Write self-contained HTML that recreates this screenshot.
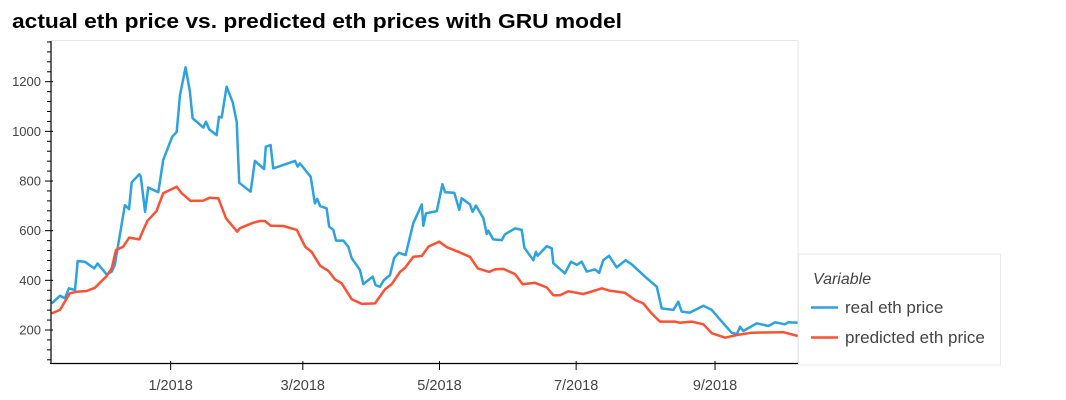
<!DOCTYPE html>
<html><head><meta charset="utf-8"><style>
body{margin:0;background:#fff;}
svg{display:block;font-family:"Liberation Sans",Helvetica,Arial,sans-serif;}
</style></head><body>
<svg id="chart" width="1066" height="400">
<text x="12" y="28" font-size="20" font-weight="bold" fill="#000" textLength="610" lengthAdjust="spacingAndGlyphs">actual eth price vs. predicted eth prices with GRU model</text>
<rect x="51" y="40.5" width="747" height="323" fill="none" stroke="#e6e6e6"/>
<g id="series"></g>
<g id="axes"></g>
<g>
<rect x="798.5" y="254" width="202" height="111" fill="#fff" stroke="#e8e8e8"/>
<text x="813" y="284" font-size="16" font-style="italic" fill="#444">Variable</text>
<line x1="811" y1="307.5" x2="838" y2="307.5" stroke="#2ca2e0" stroke-width="2.5"/>
<text x="845" y="313" font-size="17" fill="#444">real eth price</text>
<line x1="811" y1="337.5" x2="838" y2="337.5" stroke="#fe5033" stroke-width="2.5"/>
<text x="845" y="343" font-size="17" fill="#444">predicted eth price</text>
</g>
</svg>
<script>
// days since 2018-01-01
const realDays=[-53.1,-49.4,-47.2,-45.4,-42.7,-41.5,-38.3,-34.1,-32.6,-28.6,-26.3,-24.9,-20.4,-18.6,-17.4,-14,-13.3,-11.4,-10,-5.5,-3.3,0.7,2.7,4.2,6.7,8.6,9.8,14.6,15.8,17.2,20.5,21.6,22.8,25,27.7,29.5,30.6,35.7,37.6,41.7,42.5,44.6,45.8,55.5,56.7,57.7,62.5,64.4,65.4,66.7,69.6,70.8,72.6,73.8,77.1,79.3,80.8,83.8,84.5,86,90.2,91.5,93.4,95.2,97.9,99.8,101.9,104.9,108.3,112.1,112.8,114,118.8,121.3,122.5,126.6,128.8,129.9,133.6,134.8,136.3,139.6,141.1,141.8,144,147.8,149.2,153.7,156.7,157.9,161.9,163.1,163.8,167.9,170.1,170.8,176,178.7,181.3,183.5,185.7,189.4,191.3,193.1,195.7,199.1,203.1,206.1,211.7,217,219.2,224.4,226.6,228.1,231.8,237.8,241.5,246.7,250.4,252.7,254.2,255.6,261.6,266.8,269.8,274.2,275.7,279.9];
const realPrice=[307,338,328,368,361,478,475,448,468,424,435,462,703,687,795,827,817,676,774,755,885,978,998,1146,1258,1160,1053,1015,1039,1008,985,1059,1056,1180,1117,1039,793,757,881,848,938,945,851,881,858,871,817,710,728,699,690,616,603,560,560,535,489,451,442,385,415,381,374,401,421,491,511,502,630,706,620,670,679,787,755,753,684,731,706,676,701,650,587,600,565,562,585,609,603,531,481,515,499,538,529,469,428,475,462,475,435,444,430,481,499,452,481,462,415,374,287,281,314,274,270,298,281,227,189,184,213,196,227,216,231,223,231,229];
const predDays=[-53.1,-49.4,-45,-42,-37.5,-33.8,-28.6,-26.3,-24.4,-21.2,-18.5,-14,-12.2,-10.3,-6.3,-3.3,2.7,4.9,8.9,14.6,17.5,21.3,24.7,29.7,30.9,36.9,39.9,42.1,44.6,50.3,56.3,60,62.9,66.7,70.4,73.3,76.3,80.8,85.3,91.2,95.7,98.7,102.4,104.6,108.3,112.1,115,119.9,123.2,128.4,133.6,137.1,142.2,144.8,148.5,153.7,157.1,162.6,167.9,170.8,173.8,177.5,184.2,190.2,192.4,196.1,202.8,207.3,211,214.7,218.4,225.1,227.4,232.6,237.8,241.5,247.5,252.7,259.4,273.5,279.9];
const predPrice=[267,281,348,354,357,370,417,448,522,535,572,565,603,640,679,751,777,751,720,721,733,730,650,596,610,632,639,639,620,619,603,536,515,459,438,404,388,324,305,307,364,385,434,450,495,498,535,556,534,515,495,448,434,444,446,425,384,390,371,340,340,356,345,361,368,358,350,321,307,267,234,234,229,234,223,187,169,180,189,191,176];
const yTicks=[200,400,600,800,1000,1200];
const xTickDays=[0,59,120,181,243];
const xTickLabels=["1/2018","3/2018","5/2018","7/2018","9/2018"];

const NS="http://www.w3.org/2000/svg";
const X0=51,X1=797.7,D0=-53.4,D1=279.9;
const x=d=>X0+(d-D0)*(X1-X0)/(D1-D0);
const y=v=>330-(v-200)*0.2483;
function mk(tag,attrs,parent){const e=document.createElementNS(NS,tag);for(const k in attrs)e.setAttribute(k,attrs[k]);parent.appendChild(e);return e;}
const S=document.getElementById('series'),A=document.getElementById('axes');
let p=mk('path',{d:realDays.map((d,i)=>(i?'L':'M')+x(d).toFixed(1)+' '+y(realPrice[i]).toFixed(1)).join(''),fill:'none',stroke:'#2ca2e0','stroke-width':2.5,'stroke-linejoin':'round'},S);


p=mk('path',{d:predDays.map((d,i)=>(i?'L':'M')+x(d).toFixed(1)+' '+y(predPrice[i]).toFixed(1)).join(''),fill:'none',stroke:'#fe5033','stroke-width':2.5,'stroke-linejoin':'round'},S);


let l=mk('line',{x1:51,y1:41,x2:51,y2:364,stroke:'#000','stroke-width':1.2},A);


l=mk('line',{x1:50,y1:363.5,x2:798,y2:363.5,stroke:'#000','stroke-width':1.2},A);


for(let v=80;v<=1360;v+=40){const yy=y(v);if(yy<41||yy>363)continue;const major=v%200===0;
 const t=mk('line',{x1:major?45:47,y1:yy,x2:major?53:51,y2:yy,stroke:'#000','stroke-width':1},A);
 
 }
yTicks.forEach(v=>{const t=mk('text',{x:41,y:y(v)+4.5,'font-size':13,'text-anchor':'end',fill:'#444'},A);t.textContent=v;
 
 });
xTickDays.forEach((d,i)=>{const xx=x(d);
 const t=mk('line',{x1:xx,y1:361,x2:xx,y2:370,stroke:'#000','stroke-width':1},A);
 
 
 const tx=mk('text',{x:xx,y:390,'font-size':14.5,'text-anchor':'middle',fill:'#444'},A);tx.textContent=xTickLabels[i];
 
 });
</script>
</body></html>
